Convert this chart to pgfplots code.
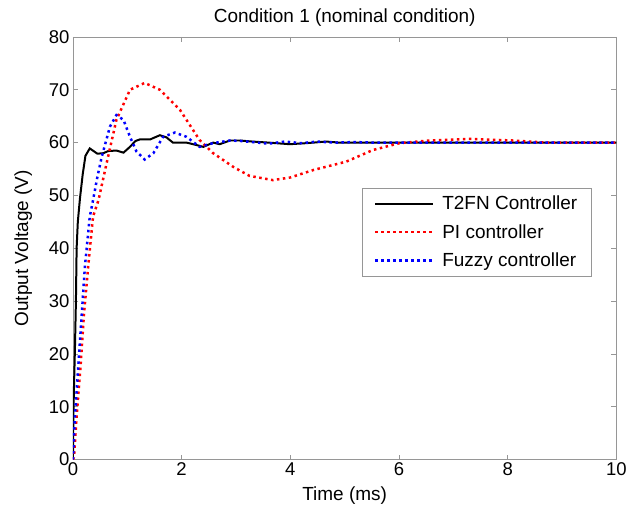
\documentclass[border=0pt]{standalone}
\usepackage{fontspec}
\setmainfont{Liberation Sans}
\usepackage{pgfplots}
\pgfplotsset{compat=1.18}
\definecolor{axgray}{RGB}{150,150,150}
\definecolor{mred}{RGB}{255,0,0}
\definecolor{mblue}{RGB}{0,0,255}
\begin{document}
\begin{tikzpicture}
\path (-73pt,-55pt) rectangle (557pt,460pt);
\begin{axis}[
  at={(0pt,0pt)}, anchor=south west,
  scale only axis, width=544pt, height=423pt,
  xmin=0, xmax=10, ymin=0, ymax=80,
  xtick={0,2,...,10}, ytick={0,10,...,80},
  tick align=inside, major tick length=5pt,
  axis line style={axgray, line width=0.8pt},
  every tick/.style={axgray, line width=0.8pt},
  tick label style={font=\fontsize{18.5}{21}\selectfont, black},
  /pgf/number format/assume math mode=true,
  xlabel={Time (ms)}, ylabel={Output Voltage (V)},
  label style={font=\fontsize{19}{21}\selectfont},
  xlabel style={yshift=-4pt},
  ylabel style={yshift=10pt},
  title={Condition 1 (nominal condition)},
  title style={font=\fontsize{19}{21}\selectfont, yshift=1pt},
  legend style={at={(0.531,0.643)}, anchor=north west, draw=axgray, line width=0.8pt,
    font=\fontsize{19}{21}\selectfont, inner xsep=12pt, inner ysep=6pt, row sep=9pt,
    cells={anchor=west}},
  legend image code/.code={\draw[#1] (0pt,0pt) -- (58pt,0pt); \path (64pt,0pt);},
]
\addplot[black, line width=2pt] coordinates {
(0,0) (0.005,5) (0.01,9) (0.02,14) (0.037,21) (0.055,30) (0.068,40) (0.09,45) (0.13,49.5)
(0.18,54) (0.23,57.5) (0.31,58.9) (0.38,58.4) (0.45,57.9) (0.56,58.0) (0.65,58.4) (0.8,58.5)
(0.93,58.1) (1.05,59.2) (1.15,60.3) (1.23,60.6) (1.42,60.6) (1.6,61.4) (1.72,61.0) (1.84,60.0)
(2.09,60.0) (2.25,59.6) (2.40,59.2) (2.58,60.0) (2.70,59.7) (2.89,60.4) (3.07,60.4) (3.3,60.2)
(3.6,60.0) (3.99,59.7) (4.3,59.9) (4.66,60.2) (4.9,60.0) (5.2,60.0) (10,60)
};
\addlegendentry{T2FN Controller}
\addplot[mred, line width=2.5pt, dash pattern=on 2.5pt off 3.5pt] coordinates {
(0,0) (0.02,0.5) (0.068,8.2) (0.14,17.6) (0.2,27.1) (0.28,36.5) (0.37,46) (0.47,49.1)
(0.62,56.1) (0.80,64.3) (1.05,70.0) (1.32,71.3) (1.6,70.0) (1.97,66.2) (2.33,60.5) (2.58,58.0)
(2.95,55.4) (3.25,53.7) (3.68,52.9) (4.0,53.4) (4.42,54.8) (5.03,56.4) (5.52,58.6) (6.01,59.9)
(6.56,60.4) (7.30,60.7) (8.09,60.4) (8.71,60.0) (10,60)
};
\addlegendentry{PI controller}
\addplot[mblue, line width=2.5pt, dash pattern=on 2.5pt off 3.5pt] coordinates {
(0,0) (0.037,8.2) (0.098,17.6) (0.16,27.1) (0.22,36.5) (0.31,46) (0.37,49.1) (0.45,53.5)
(0.53,57.3) (0.68,63.0) (0.80,65.2) (0.93,64.3) (1.05,61.1) (1.17,58.3) (1.32,56.8) (1.48,58.0)
(1.66,61.1) (1.875,61.9) (2.09,61.1) (2.33,59.2) (2.58,59.9) (2.89,60.4) (3.1,60.3) (3.3,60.1)
(3.6,59.8) (3.9,60.2) (4.2,59.9) (4.5,60.2) (4.8,60.0) (5.2,60.1) (5.5,60.0) (10,60)
};
\addlegendentry{Fuzzy controller}
\end{axis}
\end{tikzpicture}
\end{document}
